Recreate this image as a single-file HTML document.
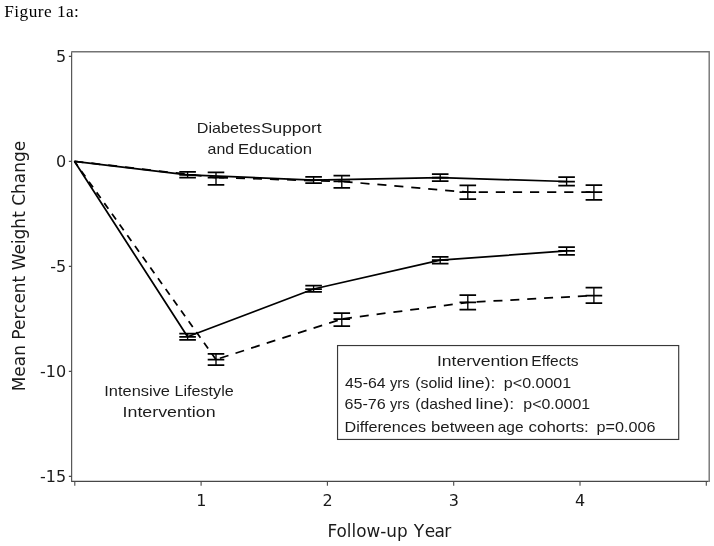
<!DOCTYPE html>
<html lang="en"><head><meta charset="utf-8"><title>Figure 1a</title>
<style>html,body{margin:0;padding:0;background:#fff}svg{display:block}text{font-kerning:normal}</style></head>
<body>
<svg width="714" height="546" viewBox="0 0 714 546">
<rect width="714" height="546" fill="#fff"/>
<text x="4.3" y="17.4" font-family="'Liberation Serif', serif" font-size="17.3" fill="#000" textLength="74.6" lengthAdjust="spacing">Figure 1a:</text>
<path d="M71.2 51.7H709.2V481.9" fill="none" stroke="#737373" stroke-width="1.4"/>
<path d="M71.65 52.3V481.4H708.5" fill="none" stroke="#474747" stroke-width="1.1"/>
<path d="M68.85 56.4H71.65 M68.85 161.4H71.65 M68.85 266.4H71.65 M68.85 371.4H71.65 M68.85 476.4H71.65 M74.8 481.4V485.8 M201.1 481.4V485.8 M327.4 481.4V485.8 M453.7 481.4V485.8 M580.0 481.4V485.8 M706.3 481.4V485.8" stroke="#4a4a4a" stroke-width="1.1" fill="none"/>
<g font-family="'DejaVu Sans', sans-serif" font-size="16" fill="#1a1a1a" style="font-kerning:none">
<text x="66.1" y="62.3" text-anchor="end">5</text>
<text x="66.1" y="167.3" text-anchor="end">0</text>
<text x="66.1" y="272.3" text-anchor="end">-5</text>
<text x="66.1" y="377.3" text-anchor="end">-10</text>
<text x="66.1" y="482.3" text-anchor="end">-15</text>
<text x="201.3" y="506.1" text-anchor="middle">1</text>
<text x="327.6" y="506.1" text-anchor="middle">2</text>
<text x="453.9" y="506.1" text-anchor="middle">3</text>
<text x="580.2" y="506.1" text-anchor="middle">4</text>
</g>
<g font-family="'DejaVu Sans', sans-serif" font-size="17" fill="#1a1a1a" style="font-kerning:none">
<text y="536.9"><tspan x="327.4" textLength="80.3" lengthAdjust="spacingAndGlyphs">Follow-up</tspan> <tspan x="413.7" dx="0 3.4 0 0" letter-spacing="-0.6">Year</tspan></text>
<text transform="translate(25.2 391.3) rotate(-90)" textLength="250.5" lengthAdjust="spacingAndGlyphs">Mean Percent Weight Change</text>
</g>
<path d="M74.4 161.3 L187.6 174.9 L313.6 180.1 L440.2 177.7 L566.6 181.5" fill="none" stroke="#000" stroke-width="1.75" stroke-linejoin="round"/>
<path d="M74.4 161.3L216.0 177.6" fill="none" stroke="#000" stroke-width="1.75" stroke-dasharray="9 8" stroke-dashoffset="17.00"/>
<path d="M216.0 177.6L341.8 181.4" fill="none" stroke="#000" stroke-width="1.75" stroke-dasharray="9 8" stroke-dashoffset="14.00"/>
<path d="M341.8 181.4L467.8 192.2" fill="none" stroke="#000" stroke-width="1.75" stroke-dasharray="9.1 7.9" stroke-dashoffset="15.30"/>
<path d="M467.8 192.2L593.9 192.1" fill="none" stroke="#000" stroke-width="1.75" stroke-dasharray="9.2 7.9" stroke-dashoffset="6.20"/>
<path d="M74.4 161.3 L187.6 336.8 L313.6 289.0 L440.2 260.2 L566.6 250.8" fill="none" stroke="#000" stroke-width="1.75" stroke-linejoin="round"/>
<path d="M74.4 161.3L216.0 359.5" fill="none" stroke="#000" stroke-width="1.75" stroke-dasharray="7.0 6.2" stroke-dashoffset="1.40"/>
<path d="M216.0 359.5L341.8 319.0" fill="none" stroke="#000" stroke-width="1.75" stroke-dasharray="9 7.4" stroke-dashoffset="12.30"/>
<path d="M341.8 319.0L467.8 302.4" fill="none" stroke="#000" stroke-width="1.75" stroke-dasharray="9 7.95" stroke-dashoffset="15.75"/>
<path d="M467.8 302.4L593.9 295.5" fill="none" stroke="#000" stroke-width="1.75" stroke-dasharray="9 7.9" stroke-dashoffset="8.10"/>
<path d="M187.6 171.8V177.7 M313.6 176.9V183.1 M440.2 174.0V181.1 M566.6 177.2V185.6 M216.0 172.4V184.8 M341.8 175.5V187.8 M467.8 185.3V199.2 M593.9 185.0V199.9 M187.6 333.7V339.8 M313.6 285.7V291.9 M440.2 256.8V263.6 M566.6 247.0V254.8 M216.0 353.9V365.1 M341.8 313.1V326.1 M467.8 295.1V309.7 M593.9 287.5V303.2" fill="none" stroke="#000" stroke-width="1.35"/>
<path d="M179.3 171.8H195.9M179.3 177.7H195.9M179.3 174.9H195.9 M305.3 176.9H321.9M305.3 183.1H321.9M305.3 180.1H321.9 M431.9 174.0H448.5M431.9 181.1H448.5M431.9 177.7H448.5 M558.3 177.2H574.9M558.3 185.6H574.9M558.3 181.5H574.9 M207.7 172.4H224.3M207.7 184.8H224.3M207.7 177.6H224.3 M333.5 175.5H350.1M333.5 187.8H350.1M333.5 181.4H350.1 M459.5 185.3H476.1M459.5 199.2H476.1M459.5 192.2H476.1 M585.6 185.0H602.2M585.6 199.9H602.2M585.6 192.1H602.2 M179.3 333.7H195.9M179.3 339.8H195.9M179.3 336.8H195.9 M305.3 285.7H321.9M305.3 291.9H321.9M305.3 289.0H321.9 M431.9 256.8H448.5M431.9 263.6H448.5M431.9 260.2H448.5 M558.3 247.0H574.9M558.3 254.8H574.9M558.3 250.8H574.9 M207.7 353.9H224.3M207.7 365.1H224.3M207.7 359.5H224.3 M333.5 313.1H350.1M333.5 326.1H350.1M333.5 319.0H350.1 M459.5 295.1H476.1M459.5 309.7H476.1M459.5 302.4H476.1 M585.6 287.5H602.2M585.6 303.2H602.2M585.6 295.5H602.2" fill="none" stroke="#000" stroke-width="1.75"/>
<g font-family="'Liberation Sans', sans-serif" font-size="14.6" fill="#1c1c1c">
<text y="132.5"><tspan x="196.76" textLength="63.76" lengthAdjust="spacingAndGlyphs">Diabetes</tspan> <tspan x="261.07" textLength="60.53" lengthAdjust="spacingAndGlyphs">Support</tspan></text>
<text y="153.8"><tspan x="207.61" textLength="26.61" lengthAdjust="spacingAndGlyphs">and</tspan> <tspan x="237.92" textLength="74.05" lengthAdjust="spacingAndGlyphs">Education</tspan></text>
<text y="395.7"><tspan x="104.27" textLength="65.75" lengthAdjust="spacingAndGlyphs">Intensive</tspan> <tspan x="174.46" textLength="59.26" lengthAdjust="spacingAndGlyphs">Lifestyle</tspan></text>
<text y="417.2"><tspan x="122.55" textLength="92.99" lengthAdjust="spacingAndGlyphs">Intervention</tspan></text>
</g>
<rect x="337.55" y="345.55" width="341.15" height="93.9" fill="#fff" stroke="#383838" stroke-width="1.15"/>
<g font-family="'Liberation Sans', sans-serif" font-size="14.6" fill="#1c1c1c">
<text y="366.0"><tspan x="436.97" textLength="91.65" lengthAdjust="spacingAndGlyphs">Intervention</tspan> <tspan x="531.31" textLength="47.19" lengthAdjust="spacingAndGlyphs">Effects</tspan></text>
<text y="387.5"><tspan x="345.03" textLength="40.53" lengthAdjust="spacingAndGlyphs">45-64</tspan> <tspan x="389.95" textLength="19.62" lengthAdjust="spacingAndGlyphs">yrs</tspan> <tspan x="415.20" textLength="37.92" lengthAdjust="spacingAndGlyphs">(solid</tspan> <tspan x="457.83" textLength="37.44" lengthAdjust="spacingAndGlyphs">line):</tspan> <tspan x="503.89" textLength="67.30" lengthAdjust="spacingAndGlyphs">p&lt;0.0001</tspan></text>
<text y="409.4"><tspan x="344.54" textLength="41.27" lengthAdjust="spacingAndGlyphs">65-76</tspan> <tspan x="389.95" textLength="19.62" lengthAdjust="spacingAndGlyphs">yrs</tspan> <tspan x="415.21" textLength="56.80" lengthAdjust="spacingAndGlyphs">(dashed</tspan> <tspan x="475.49" textLength="38.73" lengthAdjust="spacingAndGlyphs">line):</tspan> <tspan x="523.30" textLength="66.79" lengthAdjust="spacingAndGlyphs">p&lt;0.0001</tspan></text>
<text y="431.5"><tspan x="344.56" textLength="81.46" lengthAdjust="spacingAndGlyphs">Differences</tspan> <tspan x="431.04" textLength="63.54" lengthAdjust="spacingAndGlyphs">between</tspan> <tspan x="497.73" textLength="25.75" lengthAdjust="spacingAndGlyphs">age</tspan> <tspan x="528.57" textLength="60.27" lengthAdjust="spacingAndGlyphs">cohorts:</tspan> <tspan x="596.58" textLength="58.94" lengthAdjust="spacingAndGlyphs">p=0.006</tspan></text>
</g>
</svg>
</body></html>
